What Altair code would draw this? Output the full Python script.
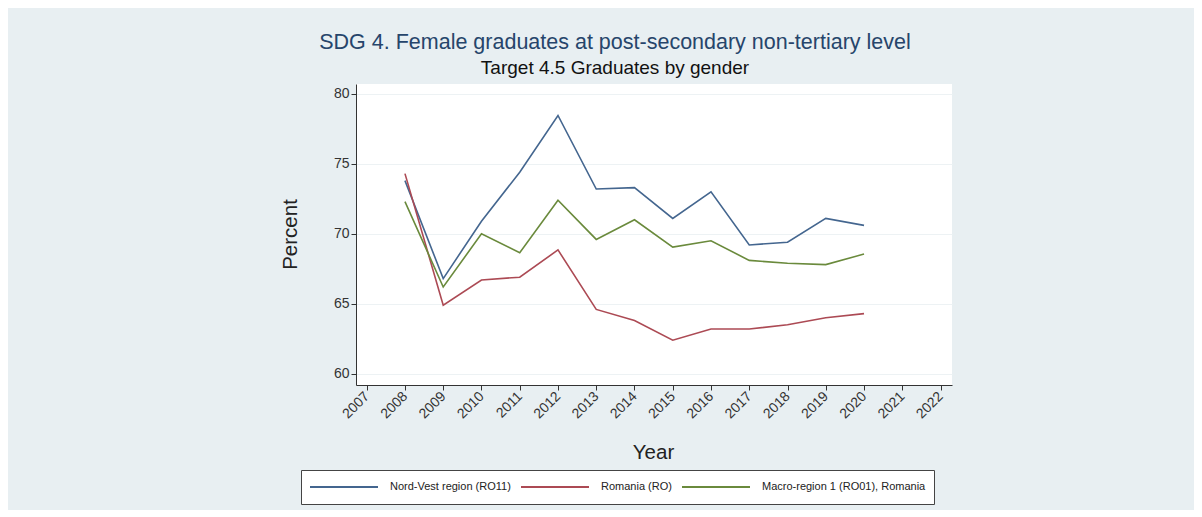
import altair as alt
import pandas as pd

years = [2008, 2009, 2010, 2011, 2012, 2013, 2014, 2015, 2016, 2017, 2018, 2019, 2020]
nord_vest = [73.8, 66.8, 70.9, 74.4, 78.45, 73.2, 73.3, 71.1, 73.0, 69.2, 69.4, 71.1, 70.6]
romania = [74.3, 64.9, 66.7, 66.9, 68.85, 64.6, 63.8, 62.4, 63.2, 63.2, 63.5, 64.0, 64.3]
macro_region = [72.3, 66.2, 70.0, 68.65, 72.4, 69.6, 71.0, 69.05, 69.5, 68.1, 67.9, 67.8, 68.55]

series_names = ["Nord-Vest region (RO11)", "Romania (RO)", "Macro-region 1 (RO01), Romania"]
series_colors = ["#44668f", "#ac4a54", "#6a8a3c"]
x_ticks = list(range(2007, 2023))
y_ticks = [60, 65, 70, 75, 80]

rows = []
for name, vals in zip(series_names, [nord_vest, romania, macro_region]):
    for yr, v in zip(years, vals):
        rows.append({"Year": yr, "Percent": v, "Series": name})
df = pd.DataFrame(rows)

FONT = "Liberation Sans"

chart = alt.Chart(df).mark_line(strokeWidth=1.6).encode(
    x=alt.X("Year:Q",
            scale=alt.Scale(domain=[2006.72, 2022.3], nice=False, zero=False),
            axis=alt.Axis(values=x_ticks, format="d", labelAngle=315, labelAlign="right",
                          labelBaseline="middle", labelFontSize=14, labelColor="#333",
                          labelPadding=4, tickSize=5, tickColor="#333", domainColor="#333",
                          grid=False, title="Year", titleFontSize=20.5, titleFontWeight="normal",
                          titleColor="#222", titleX=297, titleY=67, titleBaseline="middle",
                          titleAlign="center", labelOverlap=False, labelFont=FONT, titleFont=FONT)),
    y=alt.Y("Percent:Q",
            scale=alt.Scale(domain=[59.2, 80.7], nice=False, zero=False),
            axis=alt.Axis(values=y_ticks, labelFontSize=14, labelColor="#333", tickSize=5,
                          tickColor="#333", domainColor="#333", grid=True, gridColor="#edf2f4",
                          gridWidth=1, title="Percent", titleFontSize=20.5, titleFontWeight="normal",
                          titleColor="#222", titleX=-66, titleY=150, titleAngle=270,
                          titleBaseline="middle", titleAlign="center", labelFont=FONT, titleFont=FONT)),
    color=alt.Color("Series:N",
                    scale=alt.Scale(domain=series_names, range=series_colors),
                    sort=series_names,
                    legend=alt.Legend(orient="none", legendX=-55, legendY=386, direction="horizontal",
                                      columns=3, title=None, symbolType="stroke", symbolSize=4624,
                                      symbolStrokeWidth=2, clipHeight=18, labelOffset=11,
                                      columnPadding=9, padding=8, fillColor="white",
                                      strokeColor="#444", labelFontSize=11, labelLimit=170,
                                      labelColor="#222", labelFont=FONT)),
).properties(
    width=596,
    height=301,
    title=alt.Title(text="SDG 4. Female graduates at post-secondary non-tertiary level",
                    subtitle="Target 4.5 Graduates by gender",
                    anchor="middle", frame="group", dx=-39, offset=6,
                    fontSize=21.5, fontWeight="normal", color="#26456b", font=FONT,
                    subtitleFontSize=19, subtitleColor="#111", subtitleFont=FONT, subtitlePadding=6),
    autosize=alt.AutoSizeParams(type="none"),
    padding={"left": 348, "top": 76, "right": 242, "bottom": 125},
    background="#e8eff2",
).configure_view(stroke=None, fill="white")

chart.save("out.html", embed_options={"renderer": "svg", "actions": False})
